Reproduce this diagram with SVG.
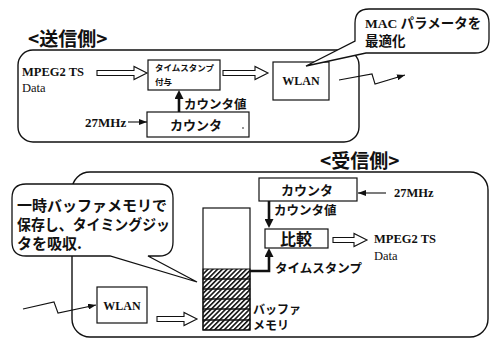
<svg xmlns="http://www.w3.org/2000/svg" width="490" height="339" viewBox="0 0 490 339">
<defs>
<style>
.panel{fill:none;stroke:#111;stroke-width:1.4}
.box{fill:#fff;stroke:#111;stroke-width:1.2}
.callout{fill:#fff;stroke:#111;stroke-width:1.3}
.hollow{fill:#fff;stroke:#111;stroke-width:1.1}
.thin{fill:none;stroke:#111;stroke-width:1.1}
.thick{fill:none;stroke:#111;stroke-width:2.6}
.jp{font-family:"Noto Sans CJK JP","Noto Sans",sans-serif;font-weight:bold;fill:#111}
.lat{font-family:"Liberation Serif","Noto Sans CJK JP",serif;font-weight:bold;fill:#111}
.latn{font-family:"Liberation Serif","Noto Sans CJK JP",serif;fill:#111}
.mix{font-family:"Liberation Serif","Noto Sans CJK JP",serif;font-weight:bold;fill:#111}
</style>
<marker id="arr" viewBox="0 0 8 6" refX="8" refY="3" markerWidth="8" markerHeight="6" markerUnits="userSpaceOnUse" orient="auto">
<path d="M0,0 L8,3 L0,6 z" fill="#111"/>
</marker>
<marker id="arrT" viewBox="0 0 9 9" refX="5" refY="4.5" markerWidth="9" markerHeight="9" markerUnits="userSpaceOnUse" orient="auto">
<path d="M0,0 L9,4.5 L0,9 z" fill="#111"/>
</marker>
<pattern id="hatch" patternUnits="userSpaceOnUse" width="3.4" height="10" patternTransform="rotate(45)">
<rect x="0" y="0" width="1.6" height="10" fill="#111"/>
</pattern>
</defs>
<rect width="490" height="339" fill="#fff"/>

<!-- Sender panel -->
<g id="sender-panel">
<rect class="panel" x="18" y="50" width="341" height="92" rx="15" ry="15"/>
<text class="jp" x="28" y="46" font-size="19">&lt;送信側&gt;</text>
</g>

<g id="tx-input">
<text class="lat" x="22" y="76" font-size="12.5">MPEG2 TS</text>
<text class="latn" x="22" y="92" font-size="12.5">Data</text>
</g>

<g id="timestamp-box">
<rect class="box" x="148" y="60" width="72" height="30"/>
<text class="jp" x="155" y="71" font-size="8.5">タイムスタンプ</text>
<text class="jp" x="155" y="85" font-size="8.5">付与</text>
</g>

<g id="tx-wlan">
<rect class="box" x="273" y="62" width="56" height="38"/>
<text class="lat" x="301" y="85" font-size="12" text-anchor="middle">WLAN</text>
</g>

<g id="tx-counter">
<rect class="box" x="147" y="112" width="102" height="25"/>
<text class="jp" x="196" y="130" font-size="13" text-anchor="middle">カウンタ</text>
<circle cx="243" cy="128" r="0.8" fill="#111"/>
</g>

<g id="tx-clock">
<text class="lat" x="85" y="127" font-size="13">27MHz</text>
</g>

<g id="mac-callout">
<path class="callout" d="M369,9 H475 Q489,9 489,23 V39 Q489,53 475,53 H366 L306,66 L355,41 V23 Q355,9 369,9 Z"/>
<text class="mix" x="365" y="28" font-size="13.5">MAC パラメータを</text>
<text class="jp" x="365" y="46" font-size="13.5">最適化</text>
</g>

<!-- Receiver panel -->
<g id="receiver-panel">
<rect class="panel" x="72" y="172" width="416" height="165" rx="18" ry="18"/>
<text class="jp" x="320" y="168" font-size="19">&lt;受信側&gt;</text>
</g>

<g id="buffer-callout">
<path class="callout" d="M26,184 H159 Q173,184 173,198 V242 Q173,256 159,256 H148 L197,282 L110,256 H26 Q12,256 12,242 V198 Q12,184 26,184 Z"/>
<text class="jp" x="17" y="211" font-size="15">一時バッファメモリで</text>
<text class="jp" x="17" y="230" font-size="15" textLength="153" lengthAdjust="spacingAndGlyphs">保存し、タイミングジッ</text>
<text class="jp" x="17" y="249" font-size="15">タを吸収.</text>
</g>

<g id="rx-wlan">
<rect class="box" x="97" y="287" width="50" height="36"/>
<text class="lat" x="122" y="310" font-size="12" text-anchor="middle">WLAN</text>
</g>

<g id="buffer">
<rect class="box" x="203" y="208" width="47" height="122"/>
<rect x="203" y="269" width="47" height="10" fill="url(#hatch)" stroke="#111" stroke-width="1"/>
<rect x="203" y="279" width="47" height="10" fill="url(#hatch)" stroke="#111" stroke-width="1"/>
<rect x="203" y="289" width="47" height="10" fill="url(#hatch)" stroke="#111" stroke-width="1"/>
<rect x="203" y="299" width="47" height="10" fill="url(#hatch)" stroke="#111" stroke-width="1"/>
<rect x="203" y="309" width="47" height="11" fill="url(#hatch)" stroke="#111" stroke-width="1"/>
<rect x="203" y="320" width="47" height="10" fill="url(#hatch)" stroke="#111" stroke-width="1"/>
<text class="jp" x="253" y="314" font-size="12">バッファ</text>
<text class="jp" x="253" y="330" font-size="12">メモリ</text>
</g>

<g id="rx-counter">
<rect class="box" x="259" y="178" width="98" height="23"/>
<text class="jp" x="307" y="195" font-size="13" text-anchor="middle">カウンタ</text>
</g>

<g id="rx-clock">
<text class="lat" x="394" y="197" font-size="12.5">27MHz</text>
</g>

<g id="compare">
<rect class="box" x="265" y="229" width="63" height="19"/>
<text class="jp" x="296" y="245" font-size="16" text-anchor="middle">比較</text>
</g>

<g id="rx-output">
<text class="lat" x="374" y="243" font-size="12.5">MPEG2 TS</text>
<text class="latn" x="374" y="260" font-size="12.5">Data</text>
</g>

<!-- Connectors -->
<g id="connectors">
<path class="hollow" d="M97,70.5 H134 V66.5 L147,73 L134,79.5 V75.5 H97 Z"/>
<path class="hollow" d="M223,70.5 H255 V66.5 L268,73 L255,79.5 V75.5 H223 Z"/>
<path class="hollow" d="M157,316.5 H184 V312.5 L197,319 L184,325.5 V321.5 H157 Z"/>
<path class="hollow" d="M333,237.5 H354 V233.5 L367,240 L354,246.5 V242.5 H333 Z"/>
<line class="thin" x1="128" y1="122" x2="147" y2="122" marker-end="url(#arr)"/>
<line class="thin" x1="386" y1="193" x2="358" y2="193" marker-end="url(#arr)"/>
<polyline class="thin" points="339,80 372,74 375,84 405,75" marker-end="url(#arr)"/>
<polyline class="thin" points="23,309 54,302 58,313 96,305" marker-end="url(#arr)"/>
<line class="thick" x1="179" y1="112" x2="179" y2="94" marker-end="url(#arrT)"/>
<text class="jp" x="184" y="109" font-size="12.5">カウンタ値</text>
<line class="thick" x1="269" y1="201" x2="269" y2="224" marker-end="url(#arrT)"/>
<text class="jp" x="274" y="215" font-size="12.5">カウンタ値</text>
<polyline class="thick" points="250,271 269,271 269,252" marker-end="url(#arrT)"/>
<text class="jp" x="275" y="273" font-size="12.5">タイムスタンプ</text>
</g>
</svg>
